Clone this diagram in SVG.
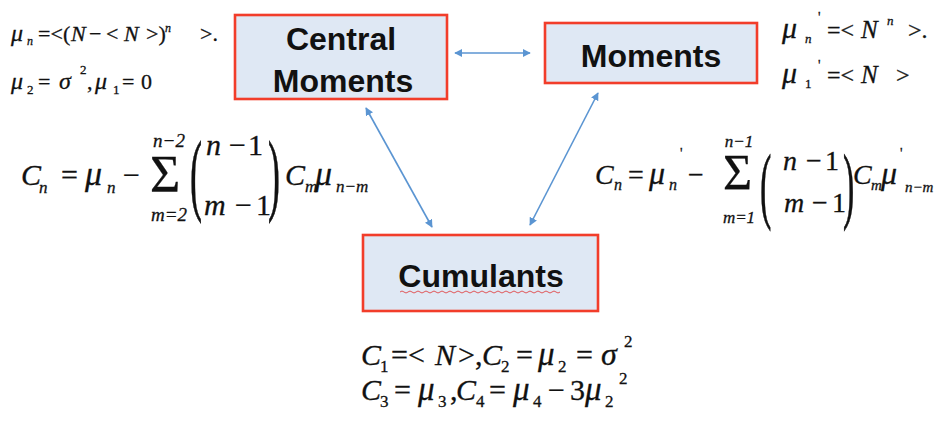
<svg xmlns="http://www.w3.org/2000/svg" width="951" height="434" viewBox="0 0 951 434">
<defs>
<style>
.box{fill:#dfe8f4;stroke:#f23d2a;stroke-width:2.6}
.lbl{font-family:"Liberation Sans",Arial,sans-serif;font-weight:bold;font-size:32px;fill:#111;text-anchor:middle}
.m{font-family:"Liberation Serif","Times New Roman",serif;fill:#111;stroke:#111;stroke-width:0.3}
.i{font-style:italic}
.c{text-anchor:middle}
.con{stroke:#5b95d2;stroke-width:1.6;fill:none;marker-start:url(#ah);marker-end:url(#ah)}
</style>
<marker id="ah" viewBox="0 0 10 10" refX="9" refY="5" markerWidth="8" markerHeight="8" markerUnits="userSpaceOnUse" orient="auto-start-reverse">
<path d="M0,0 L10,5 L0,10 z" fill="#5b95d2"/>
</marker>
</defs>
<rect width="951" height="434" fill="#fff"/>

<g id="connectors">
<line class="con" x1="455" y1="53" x2="530" y2="53"/>
<line class="con" x1="366" y1="108" x2="432" y2="227"/>
<line class="con" x1="598" y1="93" x2="530" y2="225"/>
</g>

<g id="central-moments">
<rect class="box" x="235" y="15" width="212" height="84"/>
<text class="lbl" x="341" y="50">Central</text>
<text class="lbl" x="343" y="92">Moments</text>
</g>

<g id="moments">
<rect class="box" x="545" y="23" width="212" height="60"/>
<text class="lbl" x="651" y="67">Moments</text>
</g>

<g id="cumulants">
<rect class="box" x="363" y="235" width="235" height="76"/>
<text class="lbl" x="481" y="287">Cumulants</text>
<path d="M400,292 q2,-2 4,0 t4,0 t4,0 t4,0 t4,0 t4,0 t4,0 t4,0 t4,0 t4,0 t4,0 t4,0 t4,0 t4,0 t4,0 t4,0 t4,0 t4,0 t4,0 t4,0 t4,0 t4,0 t4,0 t4,0 t4,0 t4,0 t4,0 t4,0 t4,0 t4,0 t4,0 t4,0 t4,0 t4,0 t4,0 t4,0 t4,0 t4,0 t4,0 t4,0" fill="none" stroke="#e03030" stroke-width="0.8"/>
</g>

<g id="central-def" class="m" font-size="22">
<text class="i" x="11" y="41" font-size="24">μ</text>
<text class="i" x="27" y="45" font-size="12">n</text>
<text x="38" y="41">=&lt;</text>
<text x="63" y="41">(</text>
<text class="i" x="71" y="41">N</text>
<text x="89" y="41">−</text>
<text x="106" y="41">&lt;</text>
<text class="i" x="124" y="41">N</text>
<text x="146" y="41">&gt;)</text>
<text class="i" x="165" y="32" font-size="12">n</text>
<text x="200" y="41">&gt;.</text>
<text class="i" x="11" y="89" font-size="24">μ</text>
<text x="27" y="94" font-size="13">2</text>
<text x="38" y="89">=</text>
<text class="i" x="59" y="89" font-size="24">σ</text>
<text x="80" y="74" font-size="13">2</text>
<text x="87" y="89">,</text>
<text class="i" x="95" y="89" font-size="24">μ</text>
<text x="113" y="94" font-size="13">1</text>
<text x="122" y="89">=</text>
<text x="141" y="89">0</text>
</g>

<g id="moments-def" class="m" font-size="24">
<text class="i" x="782" y="38" font-size="30">μ</text>
<text class="i" x="805" y="43" font-size="13">n</text>
<text x="818" y="22" font-size="14">'</text>
<text x="827" y="38">=&lt;</text>
<text class="i" x="861" y="38" font-size="25">N</text>
<text class="i" x="887" y="25" font-size="13">n</text>
<text x="908" y="38">&gt;.</text>
<text class="i" x="782" y="83" font-size="30">μ</text>
<text x="805" y="88" font-size="13">1</text>
<text x="818" y="70" font-size="14">'</text>
<text x="827" y="83">=&lt;</text>
<text class="i" x="861" y="83" font-size="25">N</text>
<text x="896" y="83">&gt;</text>
</g>

<g id="left-formula" class="m" font-size="30">
<text class="i" x="21" y="185">C</text>
<text class="i" x="39" y="193" font-size="17">n</text>
<text x="61" y="185">=</text>
<text class="i" x="85" y="185" font-size="34">μ</text>
<text class="i" x="107" y="193" font-size="17">n</text>
<text x="123" y="185">−</text>
<text x="150" y="192" font-size="52">Σ</text>
<text class="i c" x="169" y="147" font-size="19">n−2</text>
<text class="i c" x="169" y="221" font-size="19">m=2</text>
<text x="0" y="0" font-size="36" transform="translate(190,204) scale(1,2.55)">(</text>
<text class="i" x="206" y="155">n</text>
<text x="229" y="155">−</text>
<text x="248" y="155">1</text>
<text class="i" x="204" y="215">m</text>
<text x="235" y="215">−</text>
<text x="256" y="215">1</text>
<text x="0" y="0" font-size="36" transform="translate(268,204) scale(1,2.55)">)</text>
<text class="i" x="285" y="185">C</text>
<text class="i" x="305" y="192" font-size="17">m</text>
<text class="i" x="315" y="185" font-size="34">μ</text>
<text class="i" x="336" y="192" font-size="17">n−m</text>
</g>

<g id="right-formula" class="m" font-size="28">
<text class="i" x="595" y="184">C</text>
<text class="i" x="614" y="190" font-size="16">n</text>
<text x="628" y="184">=</text>
<text class="i" x="649" y="184" font-size="32">μ</text>
<text class="i" x="669" y="190" font-size="16">n</text>
<text x="680" y="158" font-size="14">'</text>
<text x="688" y="184">−</text>
<text x="723" y="189" font-size="50">Σ</text>
<text class="i c" x="739" y="147" font-size="17">n−1</text>
<text x="739" y="223" font-size="17" class="i c">m=1</text>
<text x="0" y="0" font-size="34" transform="translate(760,213) scale(1,2.5)">(</text>
<text class="i" x="783" y="170">n</text>
<text x="806" y="170">−</text>
<text x="825" y="170">1</text>
<text class="i" x="784" y="212">m</text>
<text x="812" y="212">−</text>
<text x="832" y="212">1</text>
<text x="0" y="0" font-size="34" transform="translate(843,213) scale(1,2.5)">)</text>
<text class="i" x="853" y="184">C</text>
<text class="i" x="871" y="190" font-size="15">m</text>
<text class="i" x="881" y="184" font-size="32">μ</text>
<text x="900" y="158" font-size="14">'</text>
<text class="i" x="905" y="192" font-size="15">n−m</text>
</g>

<g id="cumulant-values" class="m" font-size="30">
<text class="i" x="361" y="365">C</text>
<text x="380" y="372" font-size="17">1</text>
<text x="391" y="365">=&lt;</text>
<text class="i" x="435" y="365">N</text>
<text x="458" y="365">&gt;,</text>
<text class="i" x="482" y="365">C</text>
<text x="501" y="372" font-size="17">2</text>
<text x="516" y="365">=</text>
<text class="i" x="538" y="365" font-size="33">μ</text>
<text x="558" y="372" font-size="17">2</text>
<text x="576" y="365">=</text>
<text class="i" x="601" y="365" font-size="32">σ</text>
<text x="624" y="347" font-size="17">2</text>
<text class="i" x="361" y="400">C</text>
<text x="380" y="407" font-size="17">3</text>
<text x="394" y="400">=</text>
<text class="i" x="418" y="400" font-size="33">μ</text>
<text x="438" y="407" font-size="17">3</text>
<text x="450" y="400">,</text>
<text class="i" x="456" y="400">C</text>
<text x="476" y="407" font-size="17">4</text>
<text x="489" y="400">=</text>
<text class="i" x="513" y="400" font-size="33">μ</text>
<text x="533" y="407" font-size="17">4</text>
<text x="548" y="400">−</text>
<text x="570" y="400">3</text>
<text class="i" x="585" y="400" font-size="33">μ</text>
<text x="605" y="407" font-size="17">2</text>
<text x="619" y="384" font-size="17">2</text>
</g>
</svg>
